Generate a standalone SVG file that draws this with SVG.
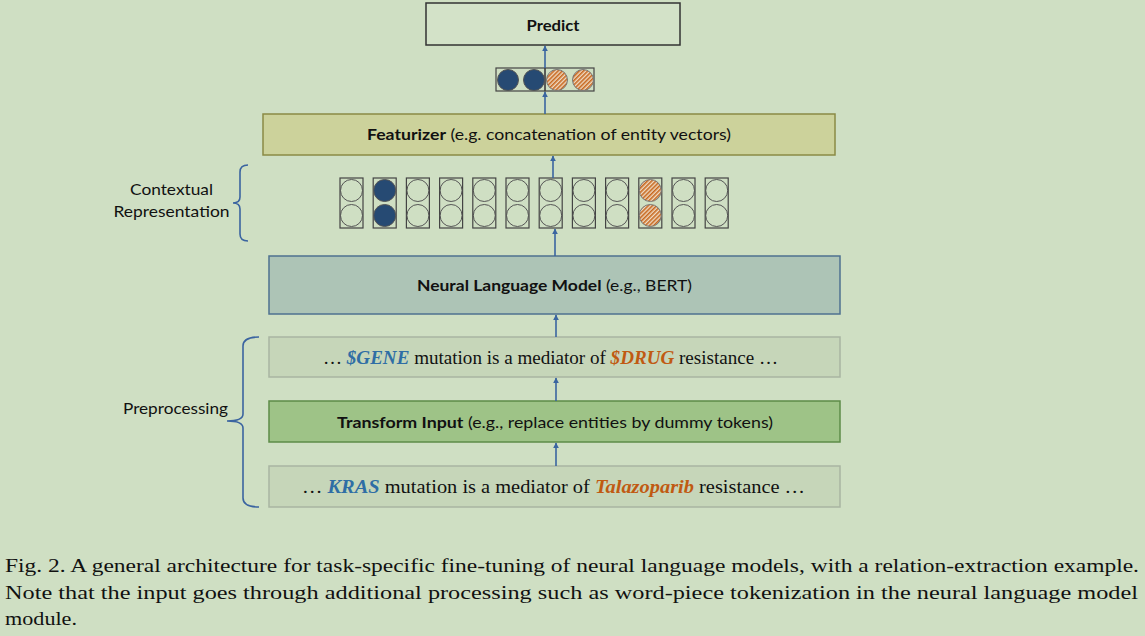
<svg xmlns="http://www.w3.org/2000/svg" width="1145" height="636" viewBox="0 0 1145 636">
<style>
.lbl{font-family:Lato,"Open Sans","Liberation Sans",sans-serif;font-size:16px;fill:#111}
.b{font-weight:bold}
.ser{font-family:"Liberation Serif","DejaVu Serif",serif;font-size:18.5px;fill:#111}
.cap{font-family:"Liberation Serif","DejaVu Serif",serif;font-size:19.5px;fill:#111}
.col{fill:none;stroke:#444;stroke-width:1.2}
.c{fill:none;stroke:#555;stroke-width:1}
.dk{fill:#264a73;stroke:#555;stroke-width:1}
.or{fill:url(#hatch);stroke:#777;stroke-width:1}
.arr{stroke:#3a65a0;stroke-width:1.6;fill:none;marker-end:url(#ah)}
.brace{stroke:#3b64a0;stroke-width:1.6;fill:none}
.row{fill:#c6d6b9;stroke:#a9b5a2;stroke-width:1.5}
</style>
<defs>
<marker id="ah" viewBox="0 0 10 10" refX="9" refY="5" markerWidth="6" markerHeight="6" orient="auto" markerUnits="userSpaceOnUse">
<path d="M0,0 L10,5 L0,10 z" fill="#3a65a0"/>
</marker>
<pattern id="hatch" width="3" height="3" patternUnits="userSpaceOnUse" patternTransform="rotate(45)">
<rect width="3" height="3" fill="#efdcc6"/>
<rect width="1.6" height="3" fill="#c8681f"/>
</pattern>
</defs>
<rect width="1145" height="636" fill="#cfdfc3"/>

<g id="predict">
<rect x="426" y="3" width="254" height="42" fill="#d3e2c8" stroke="#333" stroke-width="1.5"/>
<text x="553" y="31" class="lbl b" text-anchor="middle" textLength="53" lengthAdjust="spacingAndGlyphs">Predict</text>
</g>

<g id="entity-vector">
<rect x="496" y="68" width="49" height="23" class="col"/>
<rect x="545" y="68" width="49" height="23" class="col"/>
<circle cx="508" cy="80" r="10.5" class="dk"/>
<circle cx="534" cy="80" r="10.5" class="dk"/>
<circle cx="557" cy="80" r="10.5" class="or"/>
<circle cx="583" cy="80" r="10.5" class="or"/>
</g>

<g id="featurizer">
<rect x="263" y="114" width="572" height="41" fill="#ccd29b" stroke="#8b8b45" stroke-width="1.5"/>
<text x="549" y="140" class="lbl" text-anchor="middle" textLength="364" lengthAdjust="spacingAndGlyphs"><tspan class="b">Featurizer</tspan> (e.g. concatenation of entity vectors)</text>
</g>

<g id="contextual-representation">
<g class="col">
<rect x="340" y="178" width="23" height="50"/><rect x="373.2" y="178" width="23" height="50"/><rect x="406.4" y="178" width="23" height="50"/><rect x="439.6" y="178" width="23" height="50"/><rect x="472.8" y="178" width="23" height="50"/><rect x="506" y="178" width="23" height="50"/><rect x="539.2" y="178" width="23" height="50"/><rect x="572.4" y="178" width="23" height="50"/><rect x="605.6" y="178" width="23" height="50"/><rect x="638.8" y="178" width="23" height="50"/><rect x="672" y="178" width="23" height="50"/><rect x="705.2" y="178" width="23" height="50"/>
</g>
<g class="c">
<circle cx="351.5" cy="190.5" r="11"/><circle cx="351.5" cy="215.5" r="11"/>
<circle cx="417.9" cy="190.5" r="11"/><circle cx="417.9" cy="215.5" r="11"/>
<circle cx="451.1" cy="190.5" r="11"/><circle cx="451.1" cy="215.5" r="11"/>
<circle cx="484.3" cy="190.5" r="11"/><circle cx="484.3" cy="215.5" r="11"/>
<circle cx="517.5" cy="190.5" r="11"/><circle cx="517.5" cy="215.5" r="11"/>
<circle cx="550.7" cy="190.5" r="11"/><circle cx="550.7" cy="215.5" r="11"/>
<circle cx="583.9" cy="190.5" r="11"/><circle cx="583.9" cy="215.5" r="11"/>
<circle cx="617.1" cy="190.5" r="11"/><circle cx="617.1" cy="215.5" r="11"/>
<circle cx="683.5" cy="190.5" r="11"/><circle cx="683.5" cy="215.5" r="11"/>
<circle cx="716.7" cy="190.5" r="11"/><circle cx="716.7" cy="215.5" r="11"/>
</g>
<circle cx="384.7" cy="190.5" r="11" class="dk"/><circle cx="384.7" cy="215.5" r="11" class="dk"/>
<circle cx="650.3" cy="190.5" r="11" class="or"/><circle cx="650.3" cy="215.5" r="11" class="or"/>
</g>

<g id="contextual-label">
<path class="brace" d="M248,165 Q240,165 240,172 L240,197 Q240,203 233,203 Q240,203 240,209 L240,234 Q240,241 248,241"/>
<text x="171.5" y="195" class="lbl" text-anchor="middle" textLength="83" lengthAdjust="spacingAndGlyphs">Contextual</text>
<text x="171.5" y="217" class="lbl" text-anchor="middle" textLength="116" lengthAdjust="spacingAndGlyphs">Representation</text>
</g>

<g id="nlm">
<rect x="269" y="256" width="571" height="58" fill="#adc4b6" stroke="#4f7290" stroke-width="1.5"/>
<text x="554.5" y="291" class="lbl" text-anchor="middle" textLength="275" lengthAdjust="spacingAndGlyphs"><tspan class="b">Neural Language Model</tspan> (e.g., BERT)</text>
</g>

<g id="dummy-row">
<rect x="269" y="337" width="571" height="40" class="row"/>
<text x="550.5" y="364" class="ser" text-anchor="middle" textLength="455" lengthAdjust="spacingAndGlyphs">… <tspan fill="#2f6ea5" font-weight="bold" font-style="italic">$GENE</tspan> mutation is a mediator of <tspan fill="#c05a12" font-weight="bold" font-style="italic">$DRUG</tspan> resistance  …</text>
</g>

<g id="transform">
<rect x="269" y="401" width="571" height="41" fill="#9ec387" stroke="#5d8c48" stroke-width="1.5"/>
<text x="555" y="428" class="lbl" text-anchor="middle" textLength="436" lengthAdjust="spacingAndGlyphs"><tspan class="b">Transform Input</tspan> (e.g., replace entities by dummy tokens)</text>
</g>

<g id="input-row">
<rect x="269" y="466" width="571" height="41" class="row"/>
<text x="553.5" y="493" class="ser" text-anchor="middle" textLength="503" lengthAdjust="spacingAndGlyphs">… <tspan fill="#2f6ea5" font-weight="bold" font-style="italic">KRAS</tspan> mutation is a mediator of <tspan fill="#c05a12" font-weight="bold" font-style="italic">Talazoparib</tspan> resistance  …</text>
</g>

<g id="preprocessing-label">
<path class="brace" d="M259,337 Q243,337 243,346 L243,414 Q243,421 227,421 Q243,421 243,428 L243,498 Q243,507 259,507"/>
<text x="175.5" y="414" class="lbl" text-anchor="middle" textLength="105" lengthAdjust="spacingAndGlyphs">Preprocessing</text>
</g>

<g id="connectors">
<line x1="545" y1="68" x2="545" y2="46" class="arr"/>
<line x1="545" y1="114" x2="545" y2="92" class="arr"/>
<line x1="553" y1="178" x2="553" y2="156" class="arr"/>
<line x1="555" y1="256" x2="555" y2="229" class="arr"/>
<line x1="556" y1="337" x2="556" y2="315" class="arr"/>
<line x1="556" y1="401" x2="556" y2="378" class="arr"/>
<line x1="556" y1="466" x2="556" y2="443" class="arr"/>
</g>

<g id="caption">
<text x="5" y="572" class="cap" textLength="1134" lengthAdjust="spacingAndGlyphs">Fig. 2.  A general architecture for task-specific fine-tuning of neural language models, with a relation-extraction example.</text>
<text x="5" y="599" class="cap" textLength="1133" lengthAdjust="spacingAndGlyphs">Note that the input goes through additional processing such as word-piece tokenization in the neural language model</text>
<text x="5" y="625" class="cap" textLength="72" lengthAdjust="spacingAndGlyphs">module.</text>
</g>
</svg>
